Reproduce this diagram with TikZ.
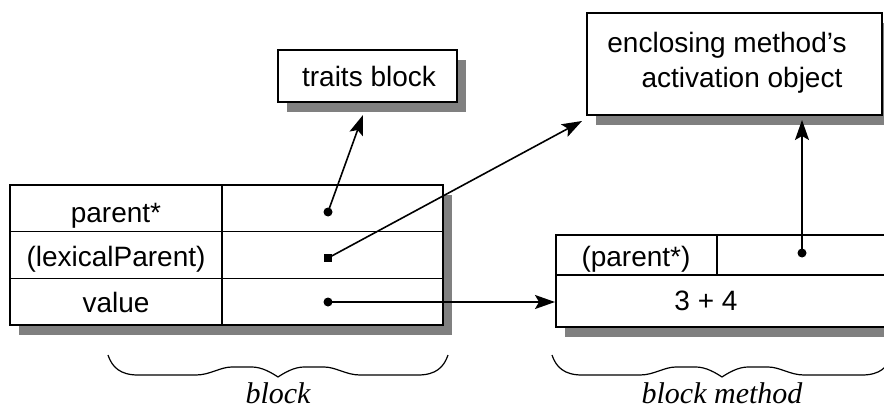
\documentclass[tikz,border=0pt]{standalone}
\usepackage{fontspec}
\setmainfont{Liberation Sans}
\newfontfamily\labelfont{Liberation Serif}
\usetikzlibrary{arrows.meta,shadows,calc}
\tikzset{
  box/.style={draw=black, line width=1.5pt, fill=white, inner sep=0pt,
    drop shadow={shadow xshift=9pt, shadow yshift=-10pt, fill=black!50, opacity=1}},
  txt/.style={anchor=base, inner sep=0pt, font=\fontsize{28}{33}\selectfont},
  captxt/.style={anchor=base, inner sep=0pt, text depth=0pt, font=\labelfont\itshape\fontsize{30}{34}\selectfont},
  dotc/.style={circle, fill=black, inner sep=0pt, minimum size=9pt},
  dots/.style={rectangle, fill=black, inner sep=0pt, minimum size=7.5pt},
  conn/.style={line width=1.6pt, -{Stealth[length=20pt,width=14pt,inset=4pt]}},
  grid/.style={line width=1.4pt},
  bracepath/.style={line width=1.2pt}
}
\begin{document}
\begin{tikzpicture}[x=1pt,y=-1pt]
\useasboundingbox (0,0) rectangle (884,412);
\clip (0,0) rectangle (884,412);

% boxes
\node[box, minimum width=179pt, minimum height=52pt] (traits) at (367.5,76) {};
\node[box, minimum width=295pt, minimum height=102pt] (encl) at (734.5,64) {};
\node[box, minimum width=433pt, minimum height=140pt] (blk) at (226.5,255) {};
\node[box, minimum width=344pt, minimum height=92pt] (bm) at (728,281) {};

% grid lines
\draw[grid] (222,185) -- (222,325);
\draw[grid] (10,231.7) -- (443,231.7);
\draw[grid] (10,278.3) -- (443,278.3);
\draw[grid] (717,235) -- (717,275);
\draw[grid] (556,275) -- (884,275);

% texts
\node[txt] (ttraits) at (369,87) {traits block};
\node[txt] (te1) at (727,53) {enclosing method's};
\node[txt] (te2) at (742,88) {activation object};
\node[txt] (tpar) at (116,222) {parent*};
\node[txt] (tlex) at (116,266) {(lexicalParent)};
\node[txt] (tval) at (116,312) {value};
\node[txt] (tbmp) at (636,266) {(parent*)};
\node[txt] (t34) at (706,310) {3 + 4};

% dots
\node[dotc] (pdot) at (328,212) {};
\node[dots] (ldot) at (328,258) {};
\node[dotc] (vdot) at (328,302) {};
\node[dotc] (mdot) at (802,253) {};

\coordinate (tin) at (363,115);
\coordinate (ein) at (582,121);
\coordinate (min) at (555,302);
\coordinate (eup) at (802,120);

\draw[conn] (pdot.center) -- (tin);
\draw[conn] (ldot.center) -- (ein);
\draw[conn] (vdot.center) -- (min);
\draw[conn] (mdot.center) -- (eup);

% braces
\foreach \cx/\nm in {278/b1, 722/b2} {
  \coordinate (\nm) at (\cx,377);
  \draw[bracepath] ($(\nm)+(-170,-22)$) .. controls +(4,12) and +(-18,0) .. ++(30,20)
     -- ++(58,0) .. controls +(14,0) and +(-12,0) .. ++(36,-8)
     -- ++(20,0) .. controls +(10,0) and +(-6,-4) .. ++(26,10)
     .. controls +(6,-4) and +(-10,0) .. ++(26,-10)
     -- ++(20,0) .. controls +(12,0) and +(-14,0) .. ++(36,8)
     -- ++(58,0) .. controls +(18,0) and +(-4,12) .. ++(30,-20);
}
\node[captxt] (lb1) at (278,403) {block};
\node[captxt] (lb2) at (722,403) {block method};
\end{tikzpicture}
\end{document}
